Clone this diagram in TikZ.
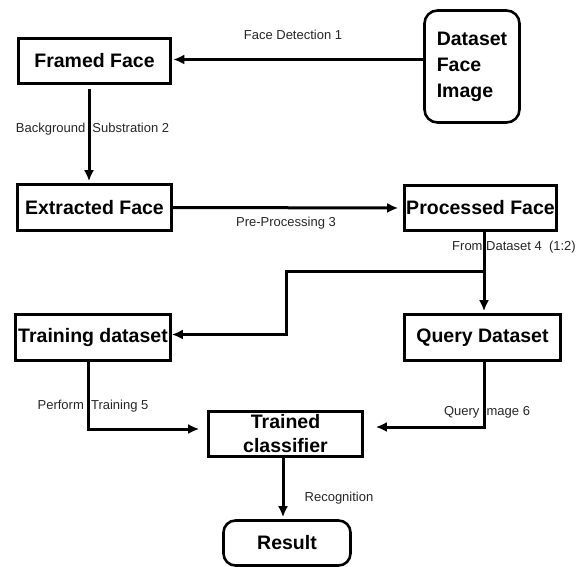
\documentclass[tikz,border=0pt]{standalone}
\usepackage{fontspec}
\setmainfont{Liberation Sans}
\usetikzlibrary{arrows.meta}
\tikzstyle{box}=[draw, line width=2.6pt, font=\fontsize{19.5}{25}\selectfont\bfseries, inner sep=0pt, align=center]
\tikzstyle{roundbox}=[box, rounded corners=13pt]
\tikzstyle{lbl}=[font=\fontsize{13}{15}\selectfont, text=black!85, inner sep=0pt]
\tikzstyle{flow}=[draw=black, line width=3pt, -{Latex[length=11pt,width=10pt]}]

\begin{document}
\begin{tikzpicture}[x=1pt,y=-1pt]
		   \useasboundingbox (0,0) rectangle (587,567);
		   \begin{scope}
			   \node (framed) at (94.5, 61)[box, minimum width=152pt, minimum height=45pt] {Framed Face};
			   \node (dataset) at (472, 66.5)[roundbox, align=left, font=\fontsize{19.5}{26}\selectfont\bfseries, minimum width=95pt, minimum height=112pt] {Dataset\\Face\\Image};
			   \node (extracted) at (94.5, 207.5)[box, minimum width=154pt, minimum height=46pt] {Extracted Face};
			   \node (processed) at (480.5, 208)[box, minimum width=152pt, minimum height=45pt] {Processed Face};
			   \node (training) at (93, 337.5)[box, minimum width=155pt, minimum height=46pt] {Training dataset};
			   \node (query) at (482.5, 337.5)[box, minimum width=156pt, minimum height=46pt] {Query Dataset};
			   \node (trained) at (285.5, 434)[box, minimum width=154pt, minimum height=45pt] {Trained\\[-1pt]classifier};
			   \node (result) at (287, 543)[roundbox, rounded corners=12pt, minimum width=127pt, minimum height=45pt] {Result};

			   \node (l1) at (293, 35)[lbl] {Face Detection 1};
			   \node (l2) at (92.5, 129)[lbl] {Background~~Substration 2};
			   \node (l3) at (286, 223)[lbl] {Pre-Processing 3};
			   \node (l4) at (514, 247)[lbl] {From Dataset 4~~(1:2)};
			   \node (l5) at (93, 406)[lbl] {Perform~~Training 5};
			   \node (l6) at (487, 412)[lbl] {Query Image 6};
			   \node (l7) at (339, 498)[lbl] {Recognition};

			   \coordinate (split) at (484, 271);
			   \coordinate (bend) at (286, 271);
		   \end{scope}
		   \begin{scope}
			   \draw [flow, shorten >=1.5pt] ([yshift=1.5pt]dataset.west |- framed.east) -- ([yshift=1.5pt]framed.east);
			   \draw [flow, shorten >=2pt, shorten <=4pt] ([xshift=-5.5pt]framed.south) -- ([xshift=-5.5pt]extracted.north);
			   \draw [flow, shorten >=5pt] (extracted.east) -- (processed.west);
			   \draw [flow, shorten >=2pt] (processed.south -| split) -- (query.north -| split);
			   \draw [flow] (split) -- (bend) |- ([yshift=3pt]training.east);
			   \draw [flow, shorten >=8pt] ([xshift=-5pt]training.south) |- ([yshift=5pt]trained.west);
			   \draw [flow, shorten >=12pt] (query.south -| split) |- ([yshift=7pt]trained.east);
			   \draw [flow, shorten >=2pt] ([xshift=-2.5pt]trained.south) -- ([xshift=-2.5pt]trained.south |- result.north);
		   \end{scope}
\end{tikzpicture}
\end{document}
